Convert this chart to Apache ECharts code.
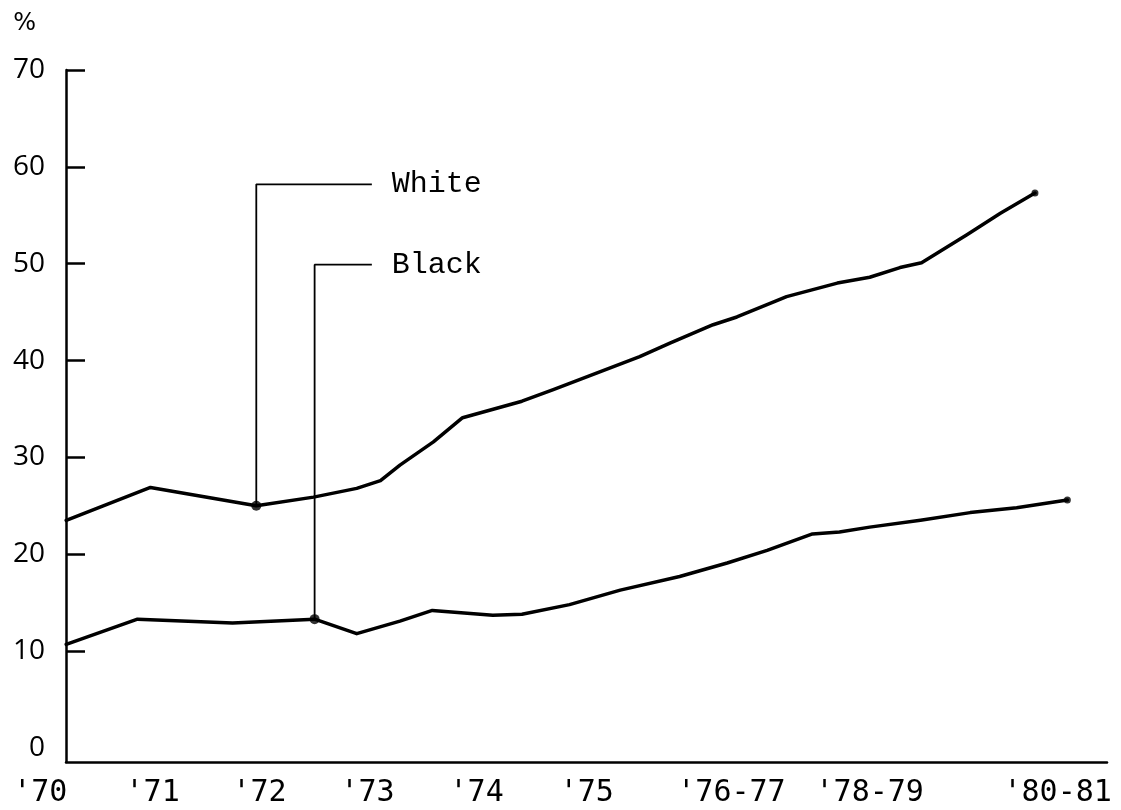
<!DOCTYPE html>
<html>
<head>
<meta charset="utf-8">
<script src="https://cdn.jsdelivr.net/npm/echarts@6/dist/echarts.min.js"></script>
<style>html,body{margin:0;padding:0;background:#fff}#c{width:1121px;height:810px}</style>
</head>
<body>
<div id="c"></div>
<script>
// ---- data (x in year-label units: '70 label ~ 0, '75 label = 5) ----
const xLabels = ["'70", "'71", "'72", "'73", "'74", "'75", "'76-77", "'78-79", "'80-81"];
const xLabelPos = [-0.09, 0.95, 1.94, 2.94, 3.95, 4.97, 6.31, 7.59, 9.33];
const yTickValues = [10, 20, 30, 40, 50, 60, 70];
const yLabelValues = [0, 10, 20, 30, 40, 50, 60, 70];

const whiteX = [0.15, 0.93, 1.91, 2.44, 2.84, 3.06, 3.24, 3.55, 3.82, 4.37, 4.66, 5.06, 5.46, 5.74, 6.14, 6.36, 6.69, 6.82, 7.29, 7.59, 7.87, 8.07, 8.49, 8.80, 9.12];
const whiteY = [23.5, 26.9, 25.0, 25.9, 26.8, 27.6, 29.2, 31.6, 34.1, 35.8, 37.0, 38.7, 40.4, 41.8, 43.7, 44.5, 46.0, 46.6, 48.0, 48.6, 49.6, 50.1, 53.0, 55.2, 57.3];

const blackX = [0.15, 0.81, 1.69, 2.45, 2.84, 3.24, 3.54, 4.10, 4.37, 4.81, 5.28, 5.83, 6.27, 6.64, 7.06, 7.31, 7.59, 8.06, 8.52, 8.95, 9.42];
const blackY = [10.7, 13.3, 12.9, 13.3, 11.8, 13.1, 14.2, 13.7, 13.8, 14.8, 16.3, 17.7, 19.1, 20.4, 22.1, 22.3, 22.8, 23.5, 24.3, 24.8, 25.6];

const seriesNames = ['White', 'Black'];
const calloutIndex = [2, 3];          // point of each series the callout points to
const calloutTop = [58.2, 49.9];      // y value of the callout elbow
const calloutEndX = 2.98;             // x value where callout lines end

// ---- layout ----
const X_MIN = 0.148, X_MAX = 9.787;
const Y_MIN = -1.45, Y_MAX = 70;
const G_LEFT = 66, G_RIGHT = 14, G_TOP = 70, G_BOTTOM = 48;
const W = 1121;
const pxPerUnit = (W - G_LEFT - G_RIGHT) / (X_MAX - X_MIN);
const X_MIN_LABELS = X_MIN - G_LEFT / pxPerUnit;

const zip = (xs, ys) => xs.map((x, i) => [x, ys[i]]);
const seriesData = [zip(whiteX, whiteY), zip(blackX, blackY)];

const chart = echarts.init(document.getElementById('c'), null, {renderer: 'canvas'});

const series = [];
seriesData.forEach((d, k) => {
  series.push({
    type: 'line', xAxisIndex: 0, yAxisIndex: 0, data: d, symbol: 'none',
    lineStyle: {color: '#000', width: 3.5, join: 'round', cap: 'round'}, z: 3, silent: true
  });
  const p = d[calloutIndex[k]];
  series.push({
    type: 'line', xAxisIndex: 0, yAxisIndex: 0, symbol: 'none', silent: true,
    data: [[p[0], p[1]], [p[0], calloutTop[k]], [calloutEndX, calloutTop[k]]],
    lineStyle: {color: '#000', width: 1.8}, z: 2,
    endLabel: {show: true, formatter: seriesNames[k], distance: 20,
      fontFamily: 'Liberation Mono', fontSize: 30, color: '#000'}
  });
  series.push({
    type: 'scatter', xAxisIndex: 0, yAxisIndex: 0, silent: true,
    data: [p], symbolSize: 10, itemStyle: {color: '#000'}, z: 4
  });
  series.push({
    type: 'scatter', xAxisIndex: 0, yAxisIndex: 0, silent: true,
    data: [d[d.length - 1]], symbolSize: 7, itemStyle: {color: '#000'}, z: 4
  });
});

const option = {
  animation: false,
  backgroundColor: '#fff',
  grid: [
    {left: G_LEFT, right: G_RIGHT, top: G_TOP, bottom: G_BOTTOM},
    {left: 0, right: G_RIGHT, top: G_TOP, bottom: G_BOTTOM}
  ],
  xAxis: [
    {type: 'value', gridIndex: 0, min: X_MIN, max: X_MAX,
      axisLine: {show: true, onZero: false, lineStyle: {color: '#000', width: 2.5}},
      axisTick: {show: false}, axisLabel: {show: false}, splitLine: {show: false}},
    {type: 'value', gridIndex: 1, min: X_MIN_LABELS, max: X_MAX,
      axisLine: {show: false}, axisTick: {show: false}, splitLine: {show: false},
      axisLabel: {show: true, customValues: xLabelPos, margin: 16,
        formatter: v => { const i = xLabelPos.findIndex(p => Math.abs(p - v) < 1e-6); return i >= 0 ? xLabels[i] : ''; },
        fontFamily: 'DejaVu Sans Mono', fontSize: 30, color: '#000'}}
  ],
  yAxis: [
    {type: 'value', gridIndex: 0, min: Y_MIN, max: Y_MAX,
      name: '%', nameLocation: 'end', nameGap: 34,
      nameTextStyle: {fontFamily: 'DejaVu Sans', fontSize: 24, color: '#000', align: 'right', padding: [0, 30, 0, 0]},
      axisLine: {show: true, onZero: false, lineStyle: {color: '#000', width: 2.5}},
      axisTick: {show: true, inside: true, length: 19, customValues: yTickValues, lineStyle: {color: '#000', width: 2.5}},
      axisLabel: {customValues: yLabelValues, margin: 21, fontFamily: 'Open Sans', fontSize: 28, color: '#000'},
      splitLine: {show: false}},
    {type: 'value', gridIndex: 1, min: Y_MIN, max: Y_MAX, show: false}
  ],
  series: series
};
chart.setOption(option);
</script>
</body>
</html>
